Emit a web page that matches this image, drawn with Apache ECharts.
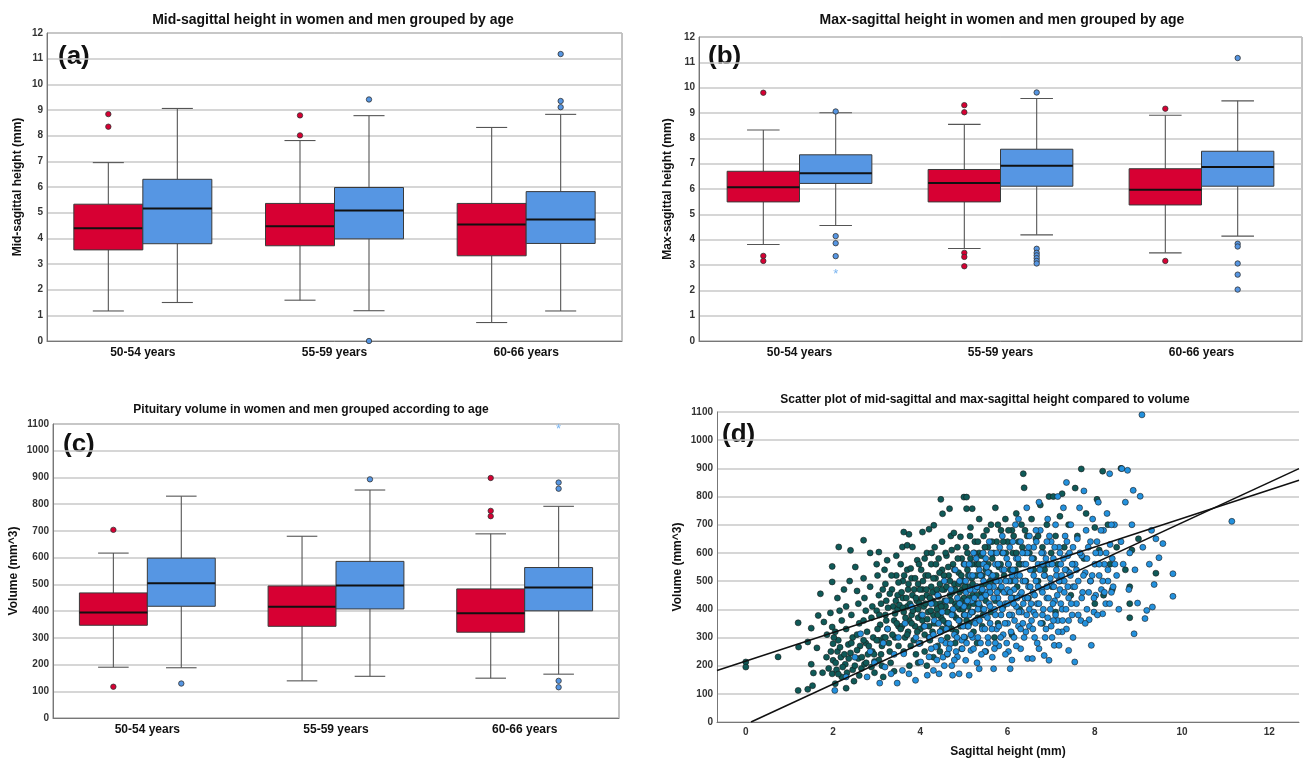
<!DOCTYPE html>
<html>
<head>
<meta charset="utf-8">
<script src="https://cdn.jsdelivr.net/npm/echarts@6/dist/echarts.min.js"></script>
<style>
  html, body { margin: 0; background: #fff; }
  #chart { width: 1303px; height: 763px; }
</style>
</head>
<body>
<div id="chart"></div>
<script>
const ageGroups = ['50-54 years', '55-59 years', '60-66 years']

// box stats per age group: [min, Q1, median, Q3, max]
const midWomen = [[1.17, 3.55, 4.39, 5.33, 6.95], [1.59, 3.71, 4.47, 5.36, 7.81], [0.72, 3.32, 4.54, 5.36, 8.32]]
const midMen = [[1.50, 3.79, 5.16, 6.30, 9.06], [1.18, 3.98, 5.08, 5.98, 8.78], [1.17, 3.80, 4.73, 5.82, 8.83]]
const midWomenOut = [[0, 8.84], [0, 8.35], [1, 8.79], [1, 8.01]]
const midMenOut = [[1, 9.41], [1, 0.0], [2, 11.18], [2, 9.35], [2, 9.11]]

const maxWomen = [[3.81, 5.49, 6.07, 6.70, 8.33], [3.65, 5.49, 6.24, 6.77, 8.55], [3.48, 5.37, 5.97, 6.80, 8.91]]
const maxMen = [[4.56, 6.22, 6.62, 7.35, 9.01], [4.19, 6.11, 6.92, 7.57, 9.57], [4.14, 6.11, 6.87, 7.49, 9.48]]
const maxWomenOut = [[0, 9.80], [0, 3.36], [0, 3.16], [1, 9.31], [1, 9.03], [1, 3.48], [1, 3.32], [1, 2.95], [2, 9.17], [2, 3.16]]
const maxMenOut = [[0, 9.06], [0, 4.14], [0, 3.86], [0, 3.35], [1, 9.81], [1, 3.64], [1, 3.48], [1, 3.38], [1, 3.27], [1, 3.16], [1, 3.06],
  [2, 11.17], [2, 3.84], [2, 3.73], [2, 3.06], [2, 2.62], [2, 2.03]]
const maxMenExtreme = [[0, 2.74]]

const volWomen = [[190, 347, 395, 468, 617], [139, 343, 416, 494, 680], [149, 321, 392, 483, 689]]
const volMen = [[188, 418, 504, 598, 830], [156, 408, 496, 586, 853], [164, 401, 488, 563, 792]]
const volWomenOut = [[0, 704], [0, 117], [2, 898], [2, 775], [2, 755]]
const volMenOut = [[0, 129], [1, 893], [2, 881], [2, 858], [2, 139], [2, 115]]
const volMenExtreme = [[2, 1091]]

// scatter (d): [sagittal height mm, volume mm^3]
const midPoints = [
  [0, 213], [0, 195], [0.74, 231], [1.2, 352], [1.21, 266], [1.2, 112], [1.42, 116], [1.42, 284], [1.5, 333], [1.5, 205], [1.55, 174], [1.53, 129],
  [1.63, 263], [1.66, 378], [1.71, 455], [1.76, 175], [1.79, 355], [1.86, 310], [1.98, 552], [1.98, 497], [1.94, 387], [1.98, 337], [2.0, 278], [2.0, 219],
  [1.98, 171], [2.05, 136], [2.13, 621], [2.1, 440], [2.15, 395], [2.2, 360], [2.05, 320], [2.12, 290], [2.1, 250], [2.18, 230], [2.08, 185], [2.2, 160],
  [2.25, 470], [2.3, 410], [2.3, 330], [2.35, 275], [2.28, 205], [2.4, 609], [2.38, 500], [2.42, 380], [2.45, 300], [2.4, 245], [2.45, 185], [2.48, 145], [2.3, 120],
  [2.51, 550], [2.55, 465], [2.58, 420], [2.6, 350], [2.55, 310], [2.62, 270], [2.58, 225], [2.65, 190], [2.7, 645], [2.7, 510], [2.72, 440], [2.75, 395],
  [2.7, 360], [2.78, 320], [2.75, 280], [2.8, 240], [2.72, 205], [2.85, 600], [2.85, 480], [2.9, 410], [2.88, 370], [2.92, 300], [2.9, 250], [2.95, 215],
  [2.95, 175], [3.0, 560], [3.05, 603], [3.02, 520], [3.05, 450], [3.0, 395], [3.08, 345], [3.05, 290], [3.1, 240], [3.12, 200], [3.15, 160], [3.18, 540],
  [3.2, 490], [3.24, 574], [3.22, 430], [3.2, 380], [3.25, 330], [3.28, 280], [3.3, 250], [3.32, 210], [3.35, 470], [3.38, 410], [3.4, 360], [3.42, 300],
  [3.45, 590], [3.45, 520], [3.48, 450], [3.48, 400], [3.5, 340], [3.5, 270], [3.4, 180],
  [3.55, 560], [3.59, 621], [3.62, 674], [3.6, 500], [3.6, 440], [3.62, 390], [3.58, 340], [3.65, 300], [3.62, 250], [3.7, 627], [3.74, 666], [3.7, 540],
  [3.72, 470], [3.7, 410], [3.75, 360], [3.72, 320], [3.78, 270], [3.75, 200], [3.82, 621], [3.8, 510], [3.82, 450], [3.85, 400], [3.8, 380], [3.88, 340],
  [3.85, 290], [3.9, 240], [3.93, 574], [3.95, 490], [3.92, 430], [3.95, 370], [3.98, 420], [4.0, 330], [4.0, 280], [4.05, 674], [4.02, 540], [4.05, 470],
  [4.08, 410], [4.05, 360], [4.1, 310], [4.1, 250], [4.15, 600], [4.12, 520], [4.15, 450], [4.18, 390], [4.2, 684], [4.2, 340], [4.22, 290], [4.25, 560],
  [4.25, 480], [4.28, 430], [4.3, 380], [4.28, 320], [4.31, 698], [4.33, 620], [4.35, 510], [4.35, 460], [4.38, 400], [4.38, 350], [4.4, 270], [4.42, 580],
  [4.45, 490], [4.45, 420], [4.47, 790], [4.48, 370], [4.5, 330], [4.51, 739], [4.5, 640], [4.5, 540], [4.3, 230], [4.15, 200], [3.95, 210], [4.45, 250],
  [4.55, 470], [4.58, 410], [4.6, 590], [4.6, 350], [4.62, 300], [4.67, 757], [4.65, 520], [4.68, 450], [4.7, 390], [4.7, 660], [4.72, 330], [4.77, 671],
  [4.75, 560], [4.78, 490], [4.8, 420], [4.82, 370], [4.8, 280], [4.85, 620], [4.88, 530], [4.9, 460], [4.9, 400], [4.92, 657], [4.92, 340], [4.95, 580],
  [4.98, 500], [5.0, 798], [5.0, 440], [5.0, 380], [5.02, 300], [5.06, 798], [5.06, 757], [5.05, 620], [5.08, 540], [5.1, 480], [5.1, 410], [5.12, 350],
  [5.15, 690], [5.15, 580], [5.19, 757], [5.18, 510], [5.2, 450], [5.2, 390], [5.22, 320], [5.25, 640], [5.28, 560], [5.3, 480], [5.3, 420], [5.32, 370],
  [5.35, 720], [5.35, 600], [5.38, 520], [5.4, 460], [5.4, 400], [5.42, 340], [5.45, 660], [5.48, 560], [5.5, 490], [5.5, 430], [5.5, 250], [4.95, 260],
  [5.3, 280], [4.62, 240],
  [5.55, 620], [5.58, 530], [5.6, 460], [5.62, 700], [5.62, 390], [5.65, 580], [5.7, 500], [5.72, 760], [5.72, 430], [5.75, 640], [5.78, 350], [5.8, 550],
  [5.82, 470], [5.85, 680], [5.88, 600], [5.9, 410], [5.92, 520], [5.95, 720], [5.98, 460], [6.0, 640], [6.02, 560], [6.05, 380], [6.08, 500], [6.1, 680],
  [6.12, 600], [6.15, 440], [6.18, 540], [6.2, 740], [6.22, 480], [6.25, 640], [6.28, 400], [6.3, 560], [6.32, 700], [6.36, 881], [6.38, 831], [6.4, 600],
  [6.42, 500], [6.45, 660], [6.48, 440], [6.1, 310], [5.7, 300],
  [6.55, 720], [6.6, 580], [6.65, 650], [6.7, 500], [6.75, 770], [6.8, 620], [6.85, 540], [6.9, 700], [6.95, 800], [7.0, 600], [7.02, 480], [7.05, 800],
  [7.1, 660], [7.15, 560], [7.2, 730], [7.25, 810], [7.3, 620], [7.35, 540], [7.4, 700], [7.45, 450], [7.1, 390], [6.8, 350],
  [7.55, 830], [7.6, 660], [7.69, 898], [7.75, 580], [7.8, 740], [7.9, 500], [8.0, 690], [8.05, 790], [8.1, 610], [8.18, 890], [8.2, 450], [8.3, 700],
  [8.35, 560], [8.5, 620], [8.6, 900], [8.7, 540], [8.8, 480], [8.85, 610], [9.0, 650], [9.4, 528], [8.8, 420]
]
// denser middle of the mid-sagittal cloud
const midPointsCore = [
  [3.02, 330], [3.06, 380], [3.1, 420], [3.14, 470], [3.16, 300], [3.22, 360], [3.26, 405], [3.3, 455], [3.34, 520], [3.36, 310], [3.42, 385], [3.44, 430],
  [3.46, 350], [3.5, 495], [3.52, 415], [3.55, 330], [3.57, 460], [3.6, 405], [3.63, 520], [3.66, 370], [3.68, 440], [3.7, 310], [3.73, 490], [3.76, 420],
  [3.78, 545], [3.8, 350], [3.83, 395], [3.86, 470], [3.88, 510], [3.9, 440], [3.93, 320], [3.95, 400], [3.97, 560], [3.99, 470],
  [4.02, 380], [4.04, 440], [4.06, 500], [4.08, 340], [4.1, 580], [4.12, 420], [4.14, 470], [4.16, 365], [4.18, 520], [4.2, 300], [4.22, 440], [4.24, 395],
  [4.26, 600], [4.28, 460], [4.3, 510], [4.32, 350], [4.34, 420], [4.36, 560], [4.38, 470], [4.4, 380], [4.42, 445], [4.44, 530], [4.46, 320], [4.48, 410],
  [4.5, 470], [4.52, 360], [4.54, 520], [4.56, 430], [4.58, 600], [4.6, 480], [4.62, 390], [4.64, 550], [4.66, 340], [4.68, 500], [4.7, 430], [4.72, 610],
  [4.74, 460], [4.76, 380], [4.78, 540], [4.8, 470], [4.82, 320], [4.84, 410], [4.86, 580], [4.88, 490], [4.9, 360], [4.92, 430], [4.94, 520], [4.96, 470],
  [4.98, 400], [5.0, 560], [5.02, 480], [5.04, 420], [5.06, 360], [5.08, 600], [5.1, 520], [5.12, 440], [5.14, 660], [5.16, 390], [5.18, 560], [5.2, 490],
  [5.22, 420], [5.24, 600], [5.26, 360], [5.28, 520], [5.3, 450], [5.32, 640], [5.34, 560], [5.36, 410], [5.38, 480], [5.4, 590], [5.42, 520], [5.44, 380],
  [5.46, 450], [5.48, 620], [5.5, 540], [5.52, 680], [5.56, 560], [5.6, 500], [5.64, 640], [5.68, 600], [5.74, 520], [5.78, 700], [5.84, 560], [5.9, 640],
  [5.96, 600], [6.02, 680], [6.06, 540], [6.14, 660], [6.2, 600], [6.26, 560], [6.34, 620], [6.4, 680], [6.5, 600], [6.6, 540], [6.7, 660], [6.9, 560],
  [7.2, 500], [7.5, 560], [8.0, 420], [8.4, 470], [8.8, 370],
  [1.85, 230], [1.9, 190], [1.95, 250], [2.02, 300], [2.06, 210], [2.12, 170], [2.16, 265], [2.22, 195], [2.26, 240], [2.32, 175], [2.36, 225], [2.42, 280],
  [2.5, 200], [2.55, 255], [2.6, 165], [2.66, 230], [2.7, 290], [2.76, 210], [2.82, 270], [2.88, 195], [2.94, 240], [3.0, 290], [3.05, 220], [3.12, 270], [3.2, 300]
]
const maxPoints = [
  [2.04, 112], [2.3, 160], [2.5, 230], [2.63, 313], [2.78, 160], [2.85, 250], [2.95, 210], [3.07, 138], [3.15, 280], [3.19, 195], [3.25, 330], [3.33, 171],
  [3.4, 240], [3.47, 138], [3.5, 300], [3.59, 183], [3.62, 242], [3.65, 350], [3.74, 171], [3.8, 410], [3.89, 148], [3.9, 300],
  [3.97, 278], [4.01, 213], [4.05, 380], [4.1, 340], [4.16, 166], [4.2, 231], [4.22, 300], [4.25, 420], [4.3, 183], [4.32, 360], [4.35, 266], [4.4, 450],
  [4.43, 171], [4.45, 320], [4.5, 390], [4.52, 230], [4.55, 500], [4.58, 280], [4.6, 430], [4.62, 242], [4.65, 350], [4.69, 278], [4.7, 470], [4.72, 200],
  [4.74, 166], [4.75, 400], [4.78, 310], [4.8, 540], [4.82, 250], [4.85, 231], [4.85, 440], [4.88, 360], [4.89, 171], [4.9, 500], [4.95, 290], [5.0, 302],
  [5.0, 410], [5.02, 560], [5.04, 219], [5.05, 460], [5.08, 340], [5.12, 166], [5.12, 380], [5.15, 520], [5.16, 254], [5.18, 430], [5.2, 300], [5.22, 600],
  [5.25, 470], [5.28, 360], [5.3, 210], [5.32, 400], [5.35, 189], [5.35, 540], [5.38, 280],
  [5.4, 440], [5.42, 330], [5.45, 500], [5.48, 250], [5.5, 580], [5.5, 380], [5.52, 460], [5.55, 300], [5.58, 640], [5.58, 420], [5.6, 350], [5.62, 520],
  [5.65, 230], [5.68, 189], [5.68, 480], [5.7, 400], [5.72, 560], [5.75, 330], [5.75, 600], [5.78, 440], [5.8, 270], [5.82, 500], [5.85, 380], [5.88, 660],
  [5.88, 540], [5.9, 310], [5.92, 460], [5.95, 420], [5.98, 580], [6.0, 350], [6.02, 250], [6.03, 500], [6.06, 189], [6.05, 620], [6.08, 440], [6.1, 380],
  [6.12, 540], [6.15, 300], [6.15, 470], [6.18, 700], [6.2, 410], [6.2, 580], [6.22, 520], [6.25, 340], [6.28, 450], [6.3, 640], [6.3, 260], [6.32, 390],
  [6.35, 500], [6.38, 560], [6.4, 440], [6.42, 320], [6.44, 760], [6.45, 600], [6.46, 225], [6.48, 480], [6.5, 400], [6.5, 660], [5.55, 530], [5.72, 280],
  [6.1, 220], [5.95, 240], [6.25, 720], [5.6, 460], [5.82, 620], [6.0, 470], [6.35, 350], [5.45, 560],
  [6.52, 540], [6.55, 360], [6.57, 225], [6.58, 460], [6.6, 620], [6.62, 300], [6.65, 500], [6.68, 420], [6.7, 560], [6.72, 780], [6.72, 260], [6.75, 680],
  [6.78, 470], [6.8, 380], [6.82, 600], [6.84, 236], [6.85, 520], [6.88, 330], [6.9, 440], [6.92, 720], [6.95, 219], [6.95, 560], [6.98, 400], [7.0, 640],
  [7.0, 490], [7.02, 300], [7.05, 580], [7.07, 272], [7.08, 430], [7.1, 700], [7.12, 520], [7.15, 360], [7.18, 272], [7.18, 620], [7.2, 470], [7.22, 560],
  [7.25, 400], [7.28, 760], [7.3, 500], [7.32, 660], [7.35, 330], [7.38, 590], [7.4, 254], [7.4, 440], [7.42, 530], [7.45, 700], [7.48, 380], [7.5, 480],
  [7.5, 620], [6.65, 680], [6.9, 640], [7.15, 800], [6.6, 390], [7.25, 320], [7.35, 850], [6.8, 560], [7.05, 360],
  [7.54, 213], [7.55, 560], [7.58, 420], [7.6, 650], [7.62, 500], [7.65, 760], [7.68, 360], [7.7, 590], [7.72, 460], [7.75, 820], [7.78, 530], [7.8, 680],
  [7.82, 400], [7.85, 620], [7.87, 363], [7.9, 500], [7.92, 272], [7.95, 720], [7.98, 390], [8.0, 560], [8.02, 450], [8.05, 640], [8.08, 780], [8.1, 520],
  [8.12, 600], [8.15, 470], [8.18, 384], [8.2, 680], [8.22, 560], [8.25, 420], [8.28, 740], [8.3, 500], [8.34, 881], [8.35, 630], [8.38, 460], [8.4, 580],
  [8.45, 700], [8.5, 520], [8.55, 400], [8.6, 640], [8.62, 899], [8.65, 560], [8.7, 780], [8.75, 893], [8.78, 470], [8.8, 600], [8.85, 700], [8.88, 822],
  [8.9, 313], [8.92, 540], [8.98, 422],
  [9.04, 801], [9.08, 1090], [9.1, 620], [9.15, 367], [9.19, 396], [9.25, 560], [9.32, 408], [9.36, 488], [9.4, 650], [9.47, 583], [9.56, 633], [9.79, 526],
  [9.79, 446], [11.14, 712], [9.3, 680]
]
// denser middle of the max-sagittal cloud
const maxPointsCore = [
  [4.25, 260], [4.3, 310], [4.38, 220], [4.42, 350], [4.48, 290], [4.55, 200], [4.6, 330], [4.66, 260], [4.72, 380], [4.78, 220], [4.84, 300], [4.9, 420],
  [4.96, 260], [4.98, 340], [5.02, 380], [5.04, 500], [5.06, 280], [5.08, 430], [5.1, 340], [5.12, 560], [5.14, 470], [5.16, 310], [5.18, 390], [5.2, 520],
  [5.22, 260], [5.24, 440], [5.26, 350], [5.28, 580], [5.3, 480], [5.32, 300], [5.34, 420], [5.36, 360], [5.38, 520], [5.4, 240], [5.42, 470], [5.44, 600],
  [5.46, 400], [5.48, 330], [5.5, 450], [5.52, 550], [5.54, 370], [5.56, 280], [5.58, 480], [5.6, 410], [5.62, 600], [5.64, 330], [5.66, 520], [5.68, 440],
  [5.7, 260], [5.72, 380], [5.74, 500], [5.76, 460], [5.78, 560], [5.8, 340], [5.82, 420], [5.84, 300], [5.86, 480], [5.88, 400], [5.9, 600], [5.92, 540],
  [5.94, 350], [5.96, 500], [5.98, 280], [6.0, 420], [6.02, 560], [6.04, 380], [6.06, 460], [6.08, 320], [6.1, 520], [6.12, 640], [6.14, 420], [6.16, 360],
  [6.18, 500], [6.2, 270], [6.22, 440], [6.24, 580], [6.26, 390], [6.28, 520], [6.3, 330], [6.32, 460], [6.34, 600], [6.36, 420], [6.38, 300], [6.4, 500],
  [6.42, 560], [6.44, 380], [6.46, 440], [6.48, 620], [6.5, 340], [6.52, 480], [6.54, 420], [6.56, 580], [6.58, 330], [6.6, 520], [6.62, 450], [6.64, 380],
  [6.66, 640], [6.68, 280], [6.7, 480], [6.72, 420], [6.74, 540], [6.76, 350], [6.78, 600], [6.8, 460], [6.82, 400], [6.84, 520], [6.86, 300], [6.88, 580],
  [6.9, 480], [6.92, 370], [6.94, 440], [6.96, 660], [6.98, 510], [7.0, 340], [7.02, 560], [7.04, 420], [7.06, 480], [7.08, 620], [7.1, 380], [7.12, 540],
  [7.14, 450], [7.16, 320], [7.18, 500], [7.2, 600], [7.22, 420], [7.24, 520], [7.26, 360], [7.28, 580], [7.3, 460], [7.32, 540], [7.34, 400], [7.36, 640],
  [7.38, 480], [7.4, 360], [7.42, 600], [7.44, 520], [7.46, 420], [7.48, 560], [7.5, 300], [7.54, 480], [7.58, 540], [7.62, 380], [7.66, 600], [7.7, 440],
  [7.74, 520], [7.78, 350], [7.82, 580], [7.86, 460], [7.9, 640], [7.94, 520], [7.98, 440], [8.02, 600], [8.06, 380], [8.1, 560], [8.14, 680], [8.18, 500],
  [8.22, 460], [8.26, 600], [8.3, 540], [8.34, 420], [8.38, 700], [8.42, 480], [8.46, 560]
]
// fit lines read at the plot edges
const midFit = [[-0.66, 183], [12.68, 858]]
const maxFit = [[0.12, 0], [12.68, 899]]

const font = 'Arial, "Liberation Sans", sans-serif'
const red = '#d70033'
const blue = '#5696e3'
const boxShare = 0.36

const boxItem = (side, fill) => (params, api) => {
  const cat = api.value(0)
  const w = api.size([1, 0])[0] * boxShare
  const x = api.coord([cat, 0])[0] + side * w / 2
  const y = (i) => api.coord([cat, api.value(i)])[1]
  const lo = y(1), q1 = y(2), med = y(3), q3 = y(4), hi = y(5)
  const cap = w * 0.45
  const ws = { stroke: '#555', lineWidth: 1.1 }
  return {
    type: 'group',
    children: [
      { type: 'line', shape: { x1: x, y1: hi, x2: x, y2: q3 }, style: ws },
      { type: 'line', shape: { x1: x, y1: q1, x2: x, y2: lo }, style: ws },
      { type: 'line', shape: { x1: x - cap / 2, y1: hi, x2: x + cap / 2, y2: hi }, style: ws },
      { type: 'line', shape: { x1: x - cap / 2, y1: lo, x2: x + cap / 2, y2: lo }, style: ws },
      { type: 'rect', shape: { x: x - w / 2, y: q3, width: w, height: q1 - q3 }, style: { fill, stroke: '#3a3a3a', lineWidth: 1 } },
      { type: 'line', shape: { x1: x - w / 2, y1: med, x2: x + w / 2, y2: med }, style: { stroke: '#111', lineWidth: 2 } }
    ]
  }
}

const outItem = (side, fill) => (params, api) => {
  const cat = api.value(0)
  const w = api.size([1, 0])[0] * boxShare
  const p = api.coord([cat, api.value(1)])
  return { type: 'circle', shape: { cx: p[0] + side * w / 2, cy: p[1], r: 2.7 }, style: { fill, stroke: '#333', lineWidth: 0.8 } }
}

const starItem = (side, fill) => (params, api) => {
  const cat = api.value(0)
  const w = api.size([1, 0])[0] * boxShare
  const p = api.coord([cat, api.value(1)])
  return { type: 'text', x: p[0] + side * w / 2, y: p[1] + 3, style: { text: '*', fill, fontSize: 13, fontFamily: font, align: 'center', verticalAlign: 'middle' } }
}

const boxPanel = (idx, women, men, womenOut, menOut, menExtreme) => {
  const axes = { xAxisIndex: idx, yAxisIndex: idx }
  const list = [
    { type: 'custom', ...axes, renderItem: boxItem(-1, red), data: women.map((v, i) => [i, ...v]), encode: { x: 0, y: [1, 2, 3, 4, 5] } },
    { type: 'custom', ...axes, renderItem: boxItem(1, blue), data: men.map((v, i) => [i, ...v]), encode: { x: 0, y: [1, 2, 3, 4, 5] } },
    { type: 'custom', ...axes, renderItem: outItem(-1, red), data: womenOut, encode: { x: 0, y: 1 }, z: 3 },
    { type: 'custom', ...axes, renderItem: outItem(1, blue), data: menOut, encode: { x: 0, y: 1 }, z: 3 }
  ]
  if (menExtreme) {
    list.push({ type: 'custom', ...axes, renderItem: starItem(1, '#7ab4f0'), data: menExtreme, encode: { x: 0, y: 1 }, z: 3 })
  }
  return list
}

const tickLabel = { fontSize: 10, fontWeight: 'bold', color: '#333', fontFamily: font, formatter: (v) => String(v) }
const axisName = { fontSize: 12, fontWeight: 'bold', color: '#111', fontFamily: font }
const gridLine = { show: true, lineStyle: { color: '#c8c8c8', width: 1.5 } }

const catAxis = (idx) => ({
  type: 'category', gridIndex: idx, data: ageGroups,
  axisLine: { lineStyle: { color: '#777' } },
  axisTick: { show: false },
  axisLabel: { fontSize: 12, fontWeight: 'bold', color: '#111', fontFamily: font, margin: 6 }
})

const valAxis = (idx, name, max, interval, gap) => ({
  type: 'value', gridIndex: idx, min: 0, max, interval,
  name, nameLocation: 'middle', nameGap: gap, nameTextStyle: axisName,
  axisLine: { show: true, onZero: false, lineStyle: { color: '#777' } },
  axisTick: { show: false },
  axisLabel: { ...tickLabel, margin: 4 },
  splitLine: gridLine
})

const panelTitle = (text, x, y, size) => ({
  text, left: x, top: y, textAlign: 'center', padding: 0,
  textStyle: { fontSize: size, fontWeight: 'bold', color: '#111', fontFamily: font }
})

const panelTag = (text, x, y) => ({
  type: 'text', x, y,
  style: { text, fill: '#111', font: 'bold 26px ' + font, verticalAlign: 'middle' }
})

const chart = echarts.init(document.getElementById('chart'))
chart.setOption({
  animation: false,
  backgroundColor: '#fff',
  title: [
    panelTitle('Mid-sagittal height in women and men grouped by age', 333, 13, 14),
    panelTitle('Max-sagittal height in women and men grouped by age', 1002, 13, 14),
    panelTitle('Pituitary volume in women and men grouped according to age', 311, 404, 12),
    panelTitle('Scatter plot of mid-sagittal and max-sagittal height compared to volume', 985, 394, 12)
  ],
  graphic: [
    panelTag('(a)', 58, 57),
    panelTag('(b)', 708, 57),
    panelTag('(c)', 63, 445),
    panelTag('(d)', 722, 435)
  ],
  grid: [
    { left: 47, top: 33, width: 575, height: 308, show: true, borderColor: '#888', borderWidth: 1 },
    { left: 699, top: 37, width: 603, height: 304, show: true, borderColor: '#888', borderWidth: 1 },
    { left: 53, top: 424, width: 566, height: 294, show: true, borderColor: '#888', borderWidth: 1 },
    { left: 717, top: 412, width: 582, height: 310 }
  ],
  xAxis: [
    catAxis(0), catAxis(1), catAxis(2),
    {
      type: 'value', gridIndex: 3, min: -0.66, max: 12.68,
      name: 'Sagittal height (mm)', nameLocation: 'middle', nameGap: 24, nameTextStyle: axisName,
      axisLine: { onZero: false, lineStyle: { color: '#777' } },
      axisTick: { show: false },
      axisLabel: { ...tickLabel, margin: 5, customValues: [0, 2, 4, 6, 8, 10, 12] },
      splitLine: { show: false }
    }
  ],
  yAxis: [
    valAxis(0, 'Mid-sagittal height (mm)', 12, 1, 23),
    valAxis(1, 'Max-sagittal height (mm)', 12, 1, 25),
    valAxis(2, 'Volume (mm^3)', 1100, 100, 33),
    valAxis(3, 'Volume (mm^3)', 1100, 100, 33)
  ],
  series: [
    ...boxPanel(0, midWomen, midMen, midWomenOut, midMenOut),
    ...boxPanel(1, maxWomen, maxMen, maxWomenOut, maxMenOut, maxMenExtreme),
    ...boxPanel(2, volWomen, volMen, volWomenOut, volMenOut, volMenExtreme),
    {
      type: 'scatter', xAxisIndex: 3, yAxisIndex: 3, data: midPoints.concat(midPointsCore), symbolSize: 6,
      itemStyle: { color: '#0f5a58', borderColor: '#1a1a1a', borderWidth: 0.6, opacity: 1 }
    },
    {
      type: 'scatter', xAxisIndex: 3, yAxisIndex: 3, data: maxPoints.concat(maxPointsCore), symbolSize: 6,
      itemStyle: { color: '#2391dd', borderColor: '#1a1a1a', borderWidth: 0.6, opacity: 1 }
    },
    {
      type: 'line', xAxisIndex: 3, yAxisIndex: 3, data: midFit, symbol: 'none', silent: true, z: 5,
      lineStyle: { color: '#111', width: 1.6 }
    },
    {
      type: 'line', xAxisIndex: 3, yAxisIndex: 3, data: maxFit, symbol: 'none', silent: true, z: 5,
      lineStyle: { color: '#111', width: 1.6 }
    }
  ]
})
</script>
</body>
</html>
